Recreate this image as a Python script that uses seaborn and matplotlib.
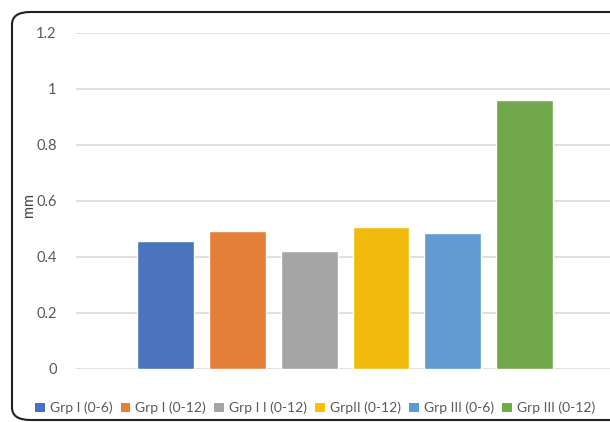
import matplotlib
matplotlib.use("Agg")
import matplotlib.pyplot as plt
import seaborn as sns
import pandas as pd
from matplotlib.patches import FancyBboxPatch, Patch

groups = ["Grp I (0-6)", "Grp I (0-12)", "Grp I I (0-12)", "GrpII (0-12)", "Grp III (0-6)", "Grp III (0-12)"]
values = [0.456, 0.493, 0.421, 0.505, 0.485, 0.96]
colors = ["#4472C4", "#ED7D31", "#A5A5A5", "#FFC000", "#5B9BD5", "#70AD47"]
yticks = [0, 0.2, 0.4, 0.6, 0.8, 1.0, 1.2]
ytick_labels = ["0", "0.2", "0.4", "0.6", "0.8", "1", "1.2"]

sns.set_theme(style="white")
plt.rcParams['font.family'] = ['Lato', 'DejaVu Sans']

W, H = 610, 422
fig = plt.figure(figsize=(W / 100, H / 100), dpi=100)
ax = fig.add_axes([76 / W, 1 - 368.7 / H, (610 - 76) / W, (368.7 - 32.7) / H])

df = pd.DataFrame({"group": groups, "value": values})
sns.barplot(data=df, x="group", y="value", hue="group", palette=colors,
            order=groups, hue_order=groups, width=0.79, ax=ax, legend=False,
            saturation=0.9, zorder=3)

ax.set_ylim(0, 1.2)
ax.set_xlim(-1.247, 6.19)
ax.set_yticks(yticks)
ax.set_yticklabels(ytick_labels, color="#595959", fontsize=10.5)
ax.set_xticks([])
ax.set_xlabel("")
ax.set_ylabel("")
ax.tick_params(axis="y", length=0, pad=14)
ax.grid(axis="y", color="#d9d9d9", linewidth=1.2, zorder=0)
for s in ax.spines.values():
    s.set_visible(False)

fig.text(29 / W, 1 - 205 / H, "mm", rotation=90, ha="center", va="center",
         color="#404040", fontsize=10.5)

handles = [Patch(facecolor=c, edgecolor="none") for c in colors]
fig.legend(handles, groups, loc="center", bbox_to_anchor=(315 / W, 1 - 408 / H),
           ncol=6, frameon=False, fontsize=10, handlelength=0.7, handleheight=0.7,
           handletextpad=0.35, columnspacing=0.6, labelcolor="#595959")

border = FancyBboxPatch((12 / W, 2 / H), (W + 20) / W, (H - 14) / H,
                        boxstyle="round,pad=0,rounding_size=0.03",
                        transform=fig.transFigure, fill=False, edgecolor="#202020",
                        linewidth=1.5, clip_on=False)
fig.patches.append(border)

fig.savefig("out.png", dpi=100)
